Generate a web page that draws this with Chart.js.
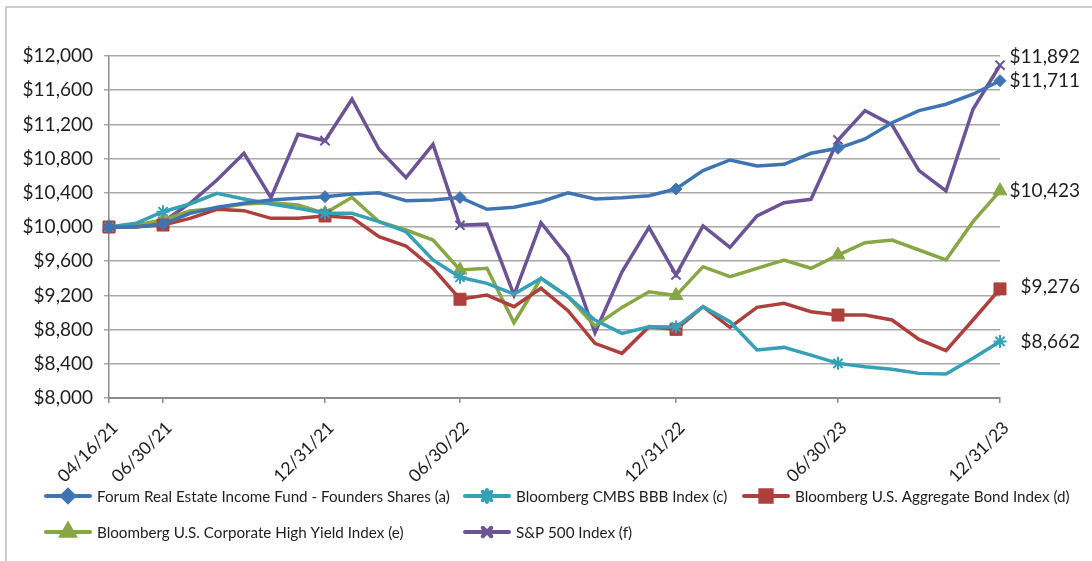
<!DOCTYPE html>
<html>
<head>
<meta charset="utf-8">
<script src="https://cdn.jsdelivr.net/npm/chart.js@4.4.1/dist/chart.umd.min.js"></script>
<style>
  html, body { margin:0; padding:0; background:#fff; }
  #wrap { width:1092px; height:561px; position:relative; }
</style>
</head>
<body>
<div id="wrap"><canvas id="chart" width="1092" height="561"></canvas></div>
<script>
// monthly points, 04/16/21 .. 12/31/23 (labels placed as in the source chart)
const categories = ['04/16/21','','06/30/21','','','','','','12/31/21','','','','','06/30/22',
  '','','','','','','','12/31/22','','','','','','06/30/23','','','','','','12/31/23'];

const forum = [10000,10000,10035,10160,10230,10277,10316,10335,10355,10386,10400,10308,10316,10345,
  10207,10230,10296,10401,10328,10343,10366,10445,10659,10784,10713,10733,10862,10920,11030,11220,
  11361,11436,11553,11711];
const cmbs = [10000,10043,10179,10269,10394,10328,10269,10218,10160,10160,10062,9945,9614,9412,
  9341,9216,9399,9185,8912,8756,8834,8830,9068,8892,8561,8592,8502,8405,8366,8335,8288,8280,8464,8662];
const aggBond = [10000,10004,10023,10101,10207,10191,10101,10101,10129,10109,9887,9778,9517,9155,
  9204,9068,9283,9021,8639,8522,8834,8803,9068,8826,9060,9107,9009,8970,8970,8912,8686,8553,8912,9276];
const highYield = [10000,10023,10082,10187,10218,10269,10284,10257,10160,10347,10062,9965,9848,9497,
  9517,8880,9400,9185,8842,9060,9243,9198,9536,9419,9517,9614,9517,9672,9816,9848,9731,9614,10062,10423];
const sp500 = [10000,10004,10062,10277,10550,10862,10343,11085,11010,11494,10909,10577,10967,10020,
  10035,9204,10050,9653,8763,9477,9996,9440,10012,9762,10129,10284,10324,11018,11361,11194,10659,
  10421,11377,11892];

const yTicks = [8000, 8400, 8800, 9200, 9600, 10000, 10400, 10800, 11200, 11600, 12000];

const FONT = 'Lato, "Open Sans", sans-serif';
const TXT = '#1e1e1e';
const money = (v) => '$' + Number(v).toLocaleString('en-US');
const markAt = (i) => categories[i] !== '';

function series(label, data, color, style, radius, bw, endShift){
  return {
    label, data, endShift,
    borderColor: color, backgroundColor: color,
    borderWidth: 3.5, tension: 0,
    pointStyle: style,
    pointRadius: (c) => markAt(c.dataIndex) ? radius : 0,
    pointHoverRadius: 0,
    pointBorderWidth: bw,
    pointBackgroundColor: color, pointBorderColor: color
  };
}

const datasets = [
  series('Forum Real Estate Income Fund - Founders Shares (a)', forum, '#3f74b3', 'rectRot', 6, 1, 0),
  series('Bloomberg CMBS BBB Index (c)', cmbs, '#36a0b7', 'star', 6.5, 2, 0),
  series('Bloomberg U.S. Aggregate Bond Index (d)', aggBond, '#ad403d', 'rect', 8.5, 1, -2),
  series('Bloomberg U.S. Corporate High Yield Index (e)', highYield, '#87a744', 'triangle', 8, 1, 0),
  series('S&P 500 Index (f)', sp500, '#6c5396', 'crossRot', 6.5, 2, -8)
];

// legend grid: column x, row y
const legendCols = [46, 465, 744];
const legendRows = [496, 532];
const legendSlots = [[0,0],[1,0],[2,0],[0,1],[1,1]];

const framePlugin = {
  id: 'frame',
  beforeDraw(chart){
    const ctx = chart.ctx;
    ctx.save();
    ctx.strokeStyle = '#bdbdbd'; ctx.lineWidth = 1.5;
    ctx.beginPath();
    ctx.moveTo(6, chart.height); ctx.lineTo(6, 7); ctx.lineTo(chart.width, 7);
    ctx.stroke();
    ctx.restore();
  }
};

// rotated date labels under the x axis
const xLabels = {
  id: 'xLabels',
  afterDraw(chart){
    const ctx = chart.ctx, x = chart.scales.x;
    ctx.save();
    ctx.font = '17.5px ' + FONT; ctx.fillStyle = TXT;
    ctx.textAlign = 'right'; ctx.textBaseline = 'middle';
    categories.forEach((lab, i) => {
      if (!lab) return;
      ctx.save();
      ctx.translate(x.getPixelForValue(i) + 6, x.top + 27);
      ctx.rotate(-Math.PI / 4);
      ctx.fillText(lab, 0, 0);
      ctx.restore();
    });
    ctx.restore();
  }
};

const endLabels = {
  id: 'endLabels',
  afterDatasetsDraw(chart){
    const ctx = chart.ctx, y = chart.scales.y;
    ctx.save();
    ctx.font = '19px ' + FONT; ctx.fillStyle = TXT;
    ctx.textAlign = 'right'; ctx.textBaseline = 'middle';
    chart.data.datasets.forEach(ds => {
      const v = ds.data[ds.data.length - 1];
      ctx.fillText(money(v), 1080, y.getPixelForValue(v) + (ds.endShift || 0));
    });
    ctx.restore();
  }
};

const legendPlugin = {
  id: 'gridLegend',
  afterDraw(chart){
    const ctx = chart.ctx;
    ctx.save();
    chart.data.datasets.forEach((ds, i) => {
      const [c, r] = legendSlots[i];
      const x = legendCols[c], y = legendRows[r];
      ctx.strokeStyle = ds.borderColor; ctx.lineWidth = 4; ctx.lineCap = 'round';
      ctx.beginPath(); ctx.moveTo(x, y); ctx.lineTo(x + 44, y); ctx.stroke();
      const rad = ds.pointStyle === 'rect' ? 8 : ds.pointStyle === 'triangle' ? 7.5 : 6;
      ctx.fillStyle = ds.borderColor;
      Chart.helpers.drawPoint(ctx, {
        pointStyle: ds.pointStyle, radius: rad, rotation: 0, borderWidth: ds.pointBorderWidth
      }, x + 22, y);
      ctx.fill();
      ctx.fillStyle = TXT; ctx.font = '15.2px ' + FONT;
      ctx.textAlign = 'left'; ctx.textBaseline = 'middle';
      ctx.fillText(ds.label, x + 51, y + 1);
    });
    ctx.restore();
  }
};

new Chart(document.getElementById('chart'), {
  type: 'line',
  data: { labels: categories, datasets },
  options: {
    responsive: false, animation: false,
    layout: { padding: { left: 0, right: 92, top: 56, bottom: 93 } },
    plugins: { legend: { display: false }, tooltip: { enabled: false } },
    scales: {
      x: {
        type: 'category', offset: false,
        afterFit: (s) => { s.height = 70; },
        grid: { drawOnChartArea: false, drawTicks: true, tickLength: 5, lineWidth: 1.5,
                tickColor: (c) => markAt(c.index) ? '#8c8c8c' : 'rgba(0,0,0,0)' },
        border: { color: '#8c8c8c', width: 2 },
        ticks: { display: false, autoSkip: false }
      },
      y: {
        min: 8000, max: 12000,
        afterFit: (s) => { s.width = 109; },
        afterBuildTicks: (s) => { s.ticks = yTicks.map(v => ({ value: v })); },
        grid: { color: '#a8a8a8', lineWidth: 1.5, tickLength: 5 },
        border: { color: '#8c8c8c', width: 1.5 },
        ticks: { padding: 11, color: TXT, font: { family: FONT, size: 19 },
                 callback: (v) => money(v) }
      }
    }
  },
  plugins: [framePlugin, xLabels, endLabels, legendPlugin]
});
</script>
</body>
</html>
